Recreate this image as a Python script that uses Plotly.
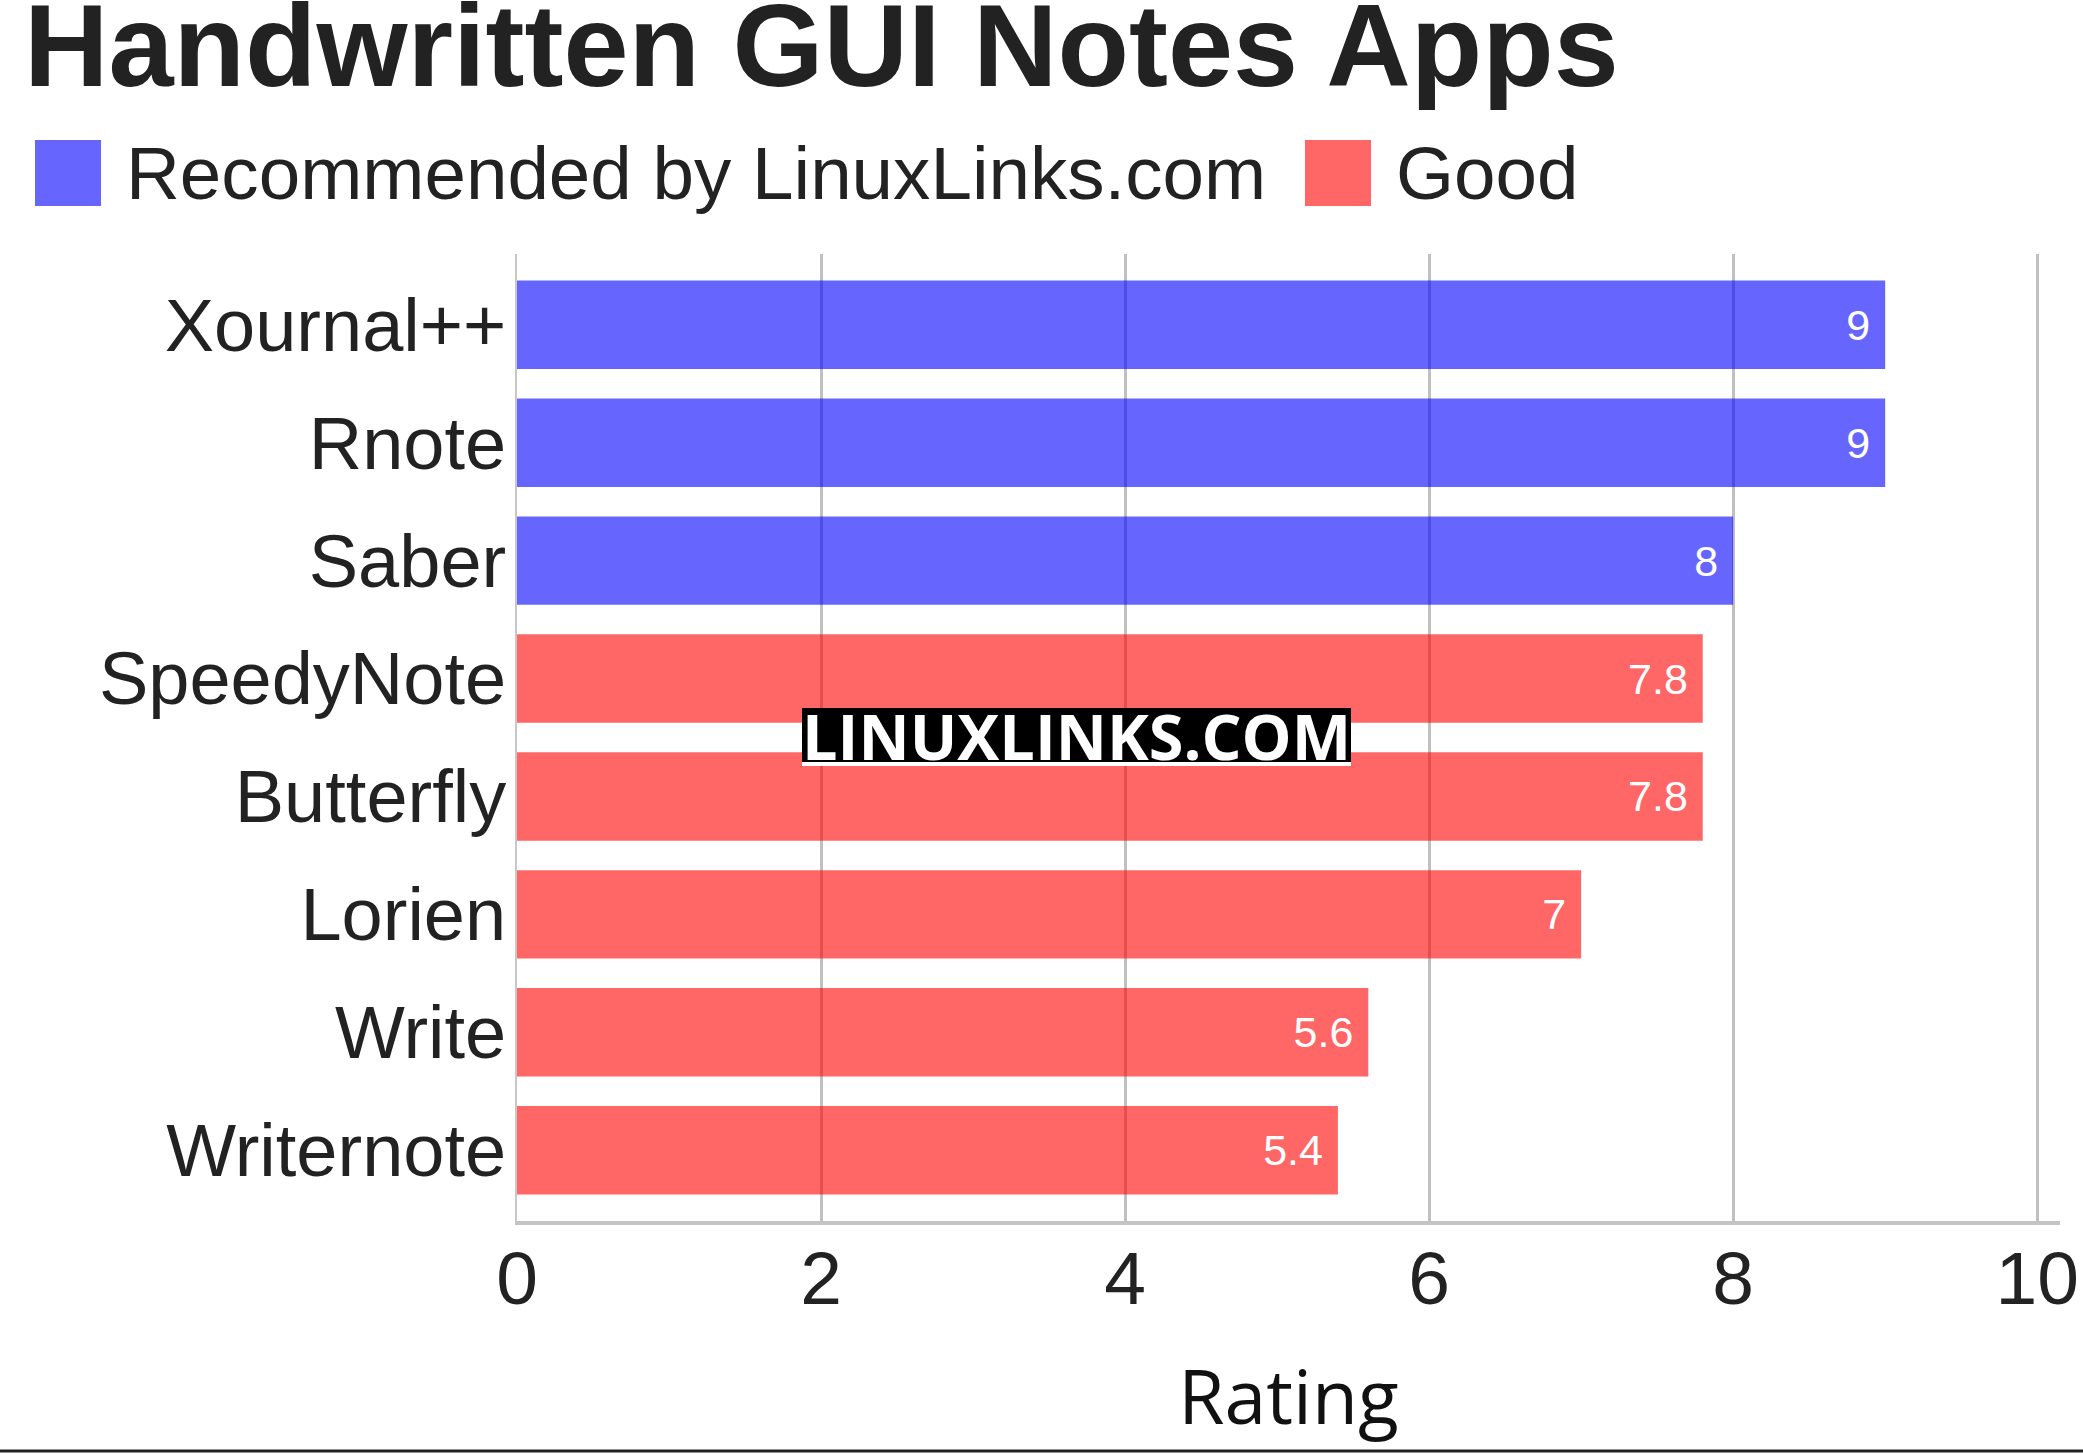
import plotly.graph_objects as go

# data
apps = ["Xournal++", "Rnote", "Saber", "SpeedyNote", "Butterfly", "Lorien", "Write", "Writernote"]
ratings = [9, 9, 8, 7.8, 7.8, 7, 5.6, 5.4]
groups = ["Recommended by LinuxLinks.com"] * 3 + ["Good"] * 5
group_names = ["Recommended by LinuxLinks.com", "Good"]
group_colors = ["rgba(0,0,255,0.6)", "rgba(255,0,0,0.6)"]
x_ticks = [0, 2, 4, 6, 8, 10]

W, H = 2083, 1454
L, R, T, B = 517, 23, 254, 233


def px(x):
    return (x - L) / (W - L - R)


def py(y):
    return (H - B - y) / (H - T - B)


fig = go.Figure()
for name, color in zip(group_names, group_colors):
    ys = [a for a, g in zip(apps, groups) if g == name]
    xs = [v for v, g in zip(ratings, groups) if g == name]
    fig.add_trace(go.Bar(
        x=xs, y=ys, orientation="h", name=name,
        marker=dict(color=color, line=dict(width=0)),
        texttemplate="%{x}\u00a0", textposition="inside", insidetextanchor="end",
        textfont=dict(family="Liberation Sans", size=43, color="white"),
        showlegend=False,
    ))

# hand-drawn legend (big squares)
legend_x = [35, 1305]
for i, (name, color) in enumerate(zip(group_names, group_colors)):
    x0 = legend_x[i]
    fig.add_shape(type="rect", xref="paper", yref="paper",
                  x0=px(x0), x1=px(x0 + 66), y0=py(206), y1=py(140),
                  fillcolor=color, line=dict(width=0))
    fig.add_annotation(text=name, xref="paper", yref="paper",
                       x=px(x0 + 89), y=py(173), xanchor="left", yanchor="middle",
                       showarrow=False,
                       font=dict(family="Liberation Sans", size=74.6, color="#222222"))

# title
fig.add_annotation(text="<b>Handwritten GUI Notes Apps</b>", xref="paper", yref="paper",
                   x=px(22), y=py(46), xanchor="left", yanchor="middle", showarrow=False,
                   font=dict(family="Liberation Sans", size=117, color="#222222"))

# watermark
fig.add_shape(type="rect", xref="paper", yref="paper", x0=px(802), x1=px(1351),
              y0=py(762), y1=py(708), fillcolor="black", line=dict(width=0))
fig.add_shape(type="rect", xref="paper", yref="paper", x0=px(802), x1=px(1351),
              y0=py(766), y1=py(762), fillcolor="white", line=dict(width=0))
fig.add_annotation(text="<b>LINUXLINKS.COM</b>", xref="paper", yref="paper",
                   x=px(1076), y=py(735), xanchor="center", yanchor="middle", showarrow=False,
                   font=dict(family="Open Sans", size=63, color="white"))

# bottom rule
fig.add_shape(type="line", xref="paper", yref="paper", x0=px(0), x1=px(W),
              y0=py(1451), y1=py(1451), line=dict(color="#222222", width=3))

fig.update_layout(
    width=W, height=H,
    margin=dict(l=L, r=R, t=T, b=B),
    paper_bgcolor="white", plot_bgcolor="white",
    barmode="overlay", bargap=0.25,
    showlegend=False,
)
fig.update_xaxes(
    range=[0, 10.15], tickvals=x_ticks, automargin=False,
    showgrid=True, gridcolor="#c0c0c0", gridwidth=3,
    zeroline=False, showline=True, linecolor="#c4c4c4", linewidth=4,
    ticks="", ticklabelstandoff=-11,
    tickfont=dict(family="Liberation Sans", size=75, color="#222222"),
    title=dict(text="Rating", standoff=53,
               font=dict(family="Open Sans", size=75, color="#111111")),
)
fig.update_yaxes(
    categoryorder="array", categoryarray=apps, range=[7.6, -0.6], automargin=False,
    showgrid=False, zeroline=False, showline=True, linecolor="#c8c8c8", linewidth=2,
    ticks="", ticklabelstandoff=-6,
    tickfont=dict(family="Liberation Sans", size=74, color="#222222"),
)

fig.write_html(
    "out.html",
    config={"displayModeBar": False, "responsive": False},
    post_script="document.body.style.margin = '0'; document.body.style.overflow = 'hidden';",
)
